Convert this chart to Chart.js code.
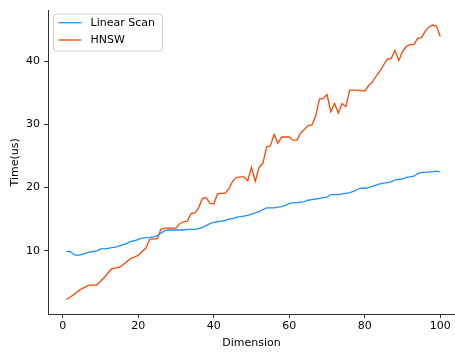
<!DOCTYPE html>
<html>
<head>
<meta charset="utf-8">
<script src="https://cdn.jsdelivr.net/npm/chart.js@4/dist/chart.umd.min.js"></script>
<style>
  html, body { margin: 0; padding: 0; background: #ffffff; }
  #wrap { width: 455px; height: 353px; }
</style>
</head>
<body>
<div id="wrap"><canvas id="chart" width="455" height="353"></canvas></div>
<script>
// Query time per dimension for the two search methods
const dimensions = Array.from({ length: 100 }, (_, i) => i + 1);

const linearScan = [
  9.9, 9.9, 9.4, 9.3, 9.4, 9.6, 9.8, 9.9, 10.0, 10.3,
  10.3, 10.4, 10.5, 10.6, 10.8, 11.0, 11.2, 11.5, 11.6, 11.8,
  12.0, 12.1, 12.1, 12.2, 12.4, 12.8, 13.2, 13.3, 13.3, 13.3,
  13.3, 13.3, 13.4, 13.4, 13.4, 13.5, 13.7, 14.0, 14.3, 14.5,
  14.6, 14.7, 14.8, 15.0, 15.1, 15.3, 15.4, 15.5, 15.6, 15.8,
  16.0, 16.2, 16.5, 16.8, 16.8, 16.8, 16.9, 17.0, 17.2, 17.5,
  17.6, 17.6, 17.7, 17.8, 18.0, 18.1, 18.2, 18.3, 18.4, 18.5,
  18.9, 18.9, 18.9, 19.0, 19.1, 19.2, 19.4, 19.7, 19.9, 19.9,
  20.0, 20.2, 20.4, 20.6, 20.7, 20.8, 20.9, 21.2, 21.3, 21.4,
  21.6, 21.7, 21.8, 22.2, 22.4, 22.4, 22.5, 22.5, 22.6, 22.5
];

const hnsw = [
  2.3, 2.7, 3.1, 3.6, 4.0, 4.3, 4.6, 4.6, 4.6, 5.2,
  5.8, 6.5, 7.2, 7.3, 7.4, 7.8, 8.3, 8.8, 9.0, 9.3,
  9.9, 10.4, 11.8, 11.9, 11.9, 13.4, 13.6, 13.6, 13.6, 13.6,
  14.3, 14.6, 14.7, 15.9, 16.0, 16.8, 18.3, 18.4, 17.5, 17.4,
  19.0, 19.1, 19.1, 19.8, 21.0, 21.6, 21.7, 21.7, 21.1, 23.2,
  21.0, 23.2, 23.8, 26.4, 26.6, 28.4, 27.0, 28.0, 28.0, 28.0,
  27.5, 27.5, 28.6, 29.2, 29.8, 29.9, 31.3, 34.0, 34.1, 34.7,
  32.0, 33.3, 31.8, 33.3, 32.8, 35.4, 35.4, 35.4, 35.3, 35.3,
  36.1, 36.7, 37.6, 38.4, 39.4, 40.3, 40.4, 41.7, 40.1, 41.5,
  42.3, 42.6, 42.6, 43.6, 43.7, 44.7, 45.4, 45.7, 45.5, 43.9
];

const xTicks = [0, 20, 40, 60, 80, 100];
const yTicks = [10, 20, 30, 40];
const seriesNames = ['Linear Scan', 'HNSW'];
const seriesColors = ['#1e90ff', '#ff4500'];

const FONT = 'DejaVu Sans';
const FONT_SIZE = 11;

// Legend in the upper-left corner of the plot, drawn as a framed box
const cornerLegend = {
  id: 'cornerLegend',
  afterDatasetsDraw(chart) {
    const ctx = chart.ctx;
    const x = 53.5, y = 14, w = 109, h = 37, r = 3;
    ctx.save();
    ctx.beginPath();
    ctx.moveTo(x + r, y);
    ctx.lineTo(x + w - r, y);
    ctx.arcTo(x + w, y, x + w, y + r, r);
    ctx.lineTo(x + w, y + h - r);
    ctx.arcTo(x + w, y + h, x + w - r, y + h, r);
    ctx.lineTo(x + r, y + h);
    ctx.arcTo(x, y + h, x, y + h - r, r);
    ctx.lineTo(x, y + r);
    ctx.arcTo(x, y, x + r, y, r);
    ctx.closePath();
    ctx.fillStyle = 'rgba(255,255,255,0.8)';
    ctx.fill();
    ctx.strokeStyle = '#d0d0d0';
    ctx.lineWidth = 1;
    ctx.stroke();

    chart.data.datasets.forEach((ds, i) => {
      const cy = 22.7 + i * 17.3;
      ctx.beginPath();
      ctx.moveTo(58.5, cy);
      ctx.lineTo(81.5, cy);
      ctx.strokeStyle = ds.borderColor;
      ctx.lineWidth = 1.3;
      ctx.stroke();
      ctx.fillStyle = '#000000';
      ctx.font = FONT_SIZE + 'px "' + FONT + '"';
      ctx.textAlign = 'left';
      ctx.textBaseline = 'middle';
      ctx.fillText(ds.label, 90.5, cy + 0.5);
    });
    ctx.restore();
  }
};

new Chart(document.getElementById('chart'), {
  type: 'line',
  data: {
    labels: dimensions,
    datasets: [
      {
        label: seriesNames[0],
        data: dimensions.map((d, i) => ({ x: d, y: linearScan[i] })),
        borderColor: seriesColors[0],
        backgroundColor: seriesColors[0],
        borderWidth: 1.3,
        pointRadius: 0,
        tension: 0,
        fill: false
      },
      {
        label: seriesNames[1],
        data: dimensions.map((d, i) => ({ x: d, y: hnsw[i] })),
        borderColor: seriesColors[1],
        backgroundColor: seriesColors[1],
        borderWidth: 1.3,
        pointRadius: 0,
        tension: 0,
        fill: false
      }
    ]
  },
  options: {
    responsive: false,
    animation: false,
    devicePixelRatio: 1,
    layout: { padding: { top: 8, right: 0, bottom: 0, left: 0 } },
    plugins: {
      legend: { display: false },
      tooltip: { enabled: false }
    },
    scales: {
      x: {
        type: 'linear',
        min: -3.9,
        max: 103.9,
        afterBuildTicks(scale) { scale.ticks = xTicks.map(v => ({ value: v })); },
        afterFit(scale) { scale.height = 39; },
        grid: { display: true, drawOnChartArea: false, drawTicks: true, tickLength: 4, tickWidth: 1, tickColor: '#333333' },
        border: { display: true, color: '#333333', width: 1 },
        ticks: { color: '#000000', padding: 2, maxRotation: 0, autoSkip: false, font: { family: FONT, size: FONT_SIZE } },
        title: { display: true, text: 'Dimension', color: '#000000', font: { family: FONT, size: FONT_SIZE }, padding: { top: 0, bottom: 3.4 } }
      },
      y: {
        type: 'linear',
        min: 0.02,
        max: 47.98,
        afterBuildTicks(scale) { scale.ticks = yTicks.map(v => ({ value: v })); },
        afterFit(scale) { scale.width = 48; },
        grid: { display: true, drawOnChartArea: false, drawTicks: true, tickLength: 4, tickWidth: 1, tickColor: '#333333' },
        border: { display: true, color: '#333333', width: 1 },
        ticks: { color: '#000000', padding: 4, autoSkip: false, font: { family: FONT, size: FONT_SIZE } },
        title: { display: true, text: 'Time(us)', color: '#000000', font: { family: FONT, size: FONT_SIZE }, padding: { top: 8.4, bottom: 0 } }
      }
    }
  },
  plugins: [cornerLegend]
});
</script>
</body>
</html>
